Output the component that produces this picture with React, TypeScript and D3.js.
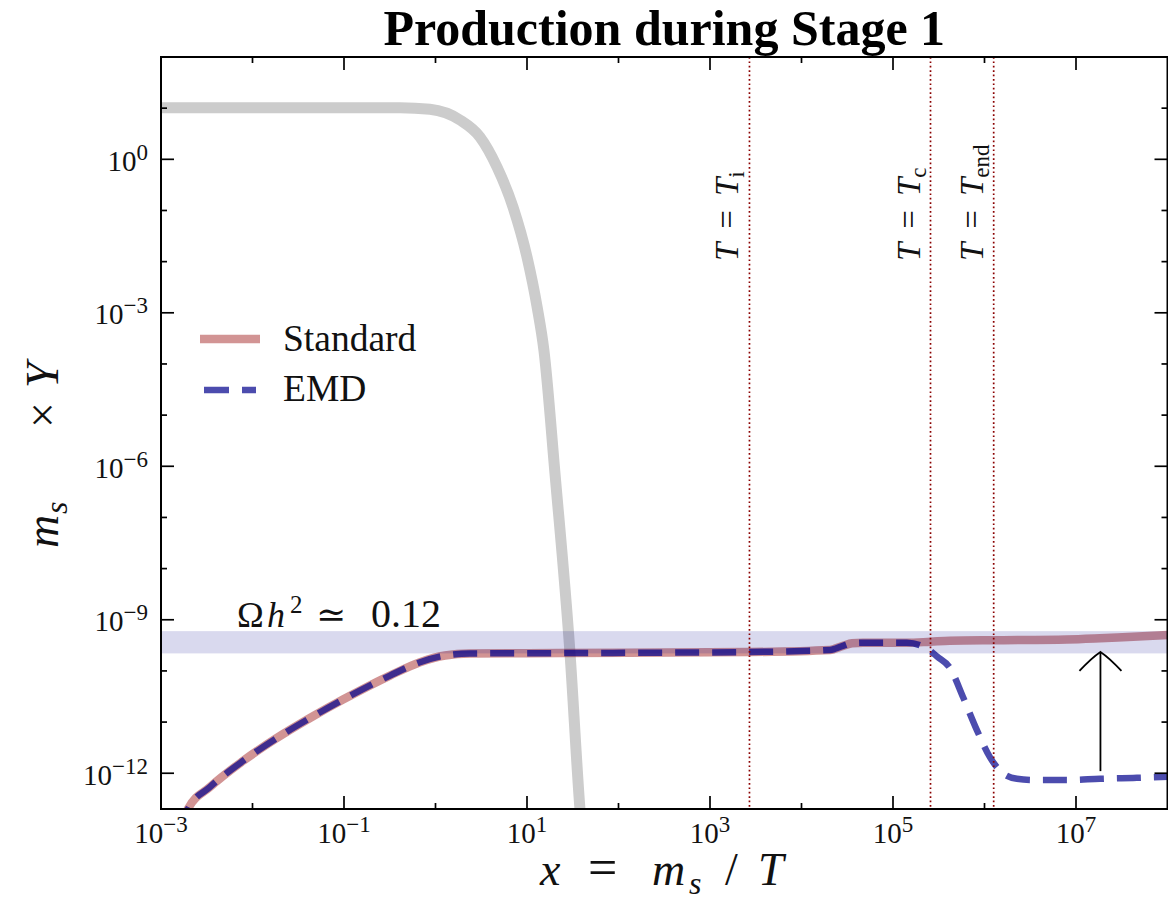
import React from "react";
import * as d3 from "d3";

const W = 1168;
const H = 906;

// axis domains
const xDomain: [number, number] = [1e-3, 1e8];
const yDomain: [number, number] = [2e-13, 1e2];

// ticks
const xMajorTicks = [1e-3, 1e-1, 1e1, 1e3, 1e5, 1e7];
const xMajorExp = ["−3", "−1", "1", "3", "5", "7"];
const xMinorTicks = [1e-2, 1e0, 1e2, 1e4, 1e6];
const yMajorTicks = [1e0, 1e-3, 1e-6, 1e-9, 1e-12];
const yMajorExp = ["0", "−3", "−6", "−9", "−12"];
const yMinorTicks = [1e1, 1e-1, 1e-2, 1e-4, 1e-5, 1e-7, 1e-8, 1e-10, 1e-11];

// equilibrium (grey) curve
const eqX = [1e-3, 0.41, 0.87, 1.85, 3.06, 4.7, 7.03, 10.0, 12.9, 15.3, 20.2, 29.5, 37.9, 40.0];
const eqY = [10.2, 10.2, 9.5, 5.87, 2.73, 0.707, 0.117, 0.0123, 1.3e-3, 1.87e-4, 7.4e-7, 2.24e-10, 2e-13, 6e-14];

// shared part of Standard and EMD
const commonX = [1.61e-3, 1.97e-3, 3.44e-3, 7.87e-3, 0.0185, 0.0425, 0.0975, 0.318, 0.678, 1.27, 2.38, 23, 2735, 2.05e4, 2.84e4, 3.57e4, 4.7e4, 1.42e5];
const commonY = [7.9e-14, 2.0e-13, 5.4e-13, 1.74e-12, 4.9e-12, 1.2e-11, 2.75e-11, 8.1e-11, 1.48e-10, 2.0e-10, 2.19e-10, 2.23e-10, 2.34e-10, 2.57e-10, 3.09e-10, 3.47e-10, 3.55e-10, 3.55e-10];

// Standard tail
const standardTailX = [2.57e5, 4.17e5, 1.48e6, 7.94e6, 1.83e7, 4.2e7, 1.01e8];
const standardTailY = [3.72e-10, 3.89e-10, 3.98e-10, 4.12e-10, 4.36e-10, 4.68e-10, 5.01e-10];

// EMD tail
const emdTailX = [1.97e5, 2.42e5, 3.03e5, 4.2e5, 5.82e5, 8.28e5, 1.15e6, 1.59e6, 2.26e6, 3.39e6, 7.98e6, 1.83e7, 4.2e7, 1.01e8];
const emdTailY = [3.18e-10, 2.66e-10, 1.91e-10, 1.14e-10, 3.09e-11, 6.9e-12, 2.04e-12, 1.0e-12, 7.8e-13, 7.4e-13, 7.4e-13, 7.8e-13, 8.1e-13, 8.5e-13];

// relic band
const bandLow = 2.2e-10;
const bandHigh = 6.0e-10;

// vertical temperature markers
const markerX = [2.7e3, 2.57e5, 1.26e6];
const markerSub = ["i", "c", "end"];

// arrow
const arrowX = 1.85e7;
const arrowFrom = 1.1e-12;
const arrowTo = 2.35e-10;

// legend
const legendLabels = ["Standard", "EMD"];

const FONT = "'Liberation Serif', 'DejaVu Serif', serif";

const L = 161, T = 57, B = 809, R = 1167.5;

export default function App() {
  const x = d3.scaleLog().domain(xDomain).range([L, R]);
  const y = d3.scaleLog().domain(yDomain).range([B, T]);

  const toPts = (xs: number[], ys: number[]) => xs.map((v, i) => [v, ys[i]] as [number, number]);
  const line = d3
    .line<[number, number]>()
    .x((d) => x(d[0]))
    .y((d) => y(d[1]))
    .curve(d3.curveMonotoneX);

  const eqPath = line(toPts(eqX, eqY)) || "";
  const stdPath = line(toPts(commonX.concat(standardTailX), commonY.concat(standardTailY))) || "";
  const emdPath = line(toPts(commonX.concat(emdTailX), commonY.concat(emdTailY))) || "";

  const MAJ = 13, MIN = 6;
  const ax = x(arrowX), ay0 = y(arrowFrom), ay1 = y(arrowTo);

  return (
    <svg width={W} height={H} style={{ position: "absolute", left: 0, top: 0, background: "#fff" }} fontFamily={FONT}>
      <defs>
        <clipPath id="plotclip">
          <rect x={L} y={T} width={R - L} height={B - T} />
        </clipPath>
      </defs>
      <rect x={0} y={0} width={W} height={H} fill="#fff" />

      <g clipPath="url(#plotclip)">
        <path d={eqPath} fill="none" stroke="#cccccc" strokeWidth={11} />
        <path d={stdPath} fill="none" stroke="rgb(165,42,42)" strokeOpacity={0.5} strokeWidth={8.5} />
        <path d={emdPath} fill="none" stroke="rgb(0,0,139)" strokeOpacity={0.7} strokeWidth={6.5} strokeDasharray="24 13" />
        <rect x={L} y={y(bandHigh)} width={R - L} height={y(bandLow) - y(bandHigh)} fill="rgb(0,0,139)" fillOpacity={0.15} />
        {markerX.map((m, i) => (
          <line key={"m" + i} x1={x(m)} x2={x(m)} y1={T} y2={B} stroke="#8b0000" strokeWidth={1.7} strokeDasharray="1.7 2.7" />
        ))}
      </g>

      {markerX.map((m, i) => (
        <text
          key={"ml" + i}
          transform={`translate(${x(m) - 11},261) rotate(-90)`}
          fontSize={33}
          fill="#111"
          style={{ whiteSpace: "pre" }}
        >
          <tspan fontStyle="italic">T</tspan>
          <tspan dx={14}>=</tspan>
          <tspan dx={14} fontStyle="italic">T</tspan>
          <tspan dy={6} fontSize={23}>{markerSub[i]}</tspan>
        </text>
      ))}

      {/* Omega h^2 label */}
      <g fill="#111" fontSize={36}>
        <text x={237} y={627}>Ω</text>
        <text x={267} y={627} fontStyle="italic">h</text>
        <text x={290} y={613} fontSize={25}>2</text>
        <text x={316} y={627} fontFamily="'DejaVu Serif', serif" fontSize={36}>≃</text>
        <text x={371} y={627} fontSize={40}>0.12</text>
      </g>

      {/* arrow */}
      <g stroke="#000" strokeWidth={1.8} fill="none">
        <line x1={ax} x2={ax} y1={ay0} y2={ay1} />
        <path d={`M ${ax - 21} ${ay1 + 19} Q ${ax - 9} ${ay1 + 6} ${ax} ${ay1} Q ${ax + 9} ${ay1 + 6} ${ax + 21} ${ay1 + 19}`} />
      </g>

      {/* legend */}
      <line x1={200} x2={260} y1={339} y2={339} stroke="rgb(165,42,42)" strokeOpacity={0.5} strokeWidth={8.5} />
      <line x1={204} x2={256} y1={390} y2={390} stroke="rgb(0,0,139)" strokeOpacity={0.7} strokeWidth={6.5} strokeDasharray="25 13" />
      <text x={283} y={351} fontSize={37.5} fill="#111">{legendLabels[0]}</text>
      <text x={283} y={401} fontSize={37.5} fill="#111">{legendLabels[1]}</text>

      {/* axes frame */}
      <rect x={L} y={T} width={R - L} height={B - T} fill="none" stroke="#000" strokeWidth={2} />

      {/* ticks */}
      <g stroke="#000" strokeWidth={1.7}>
        {xMajorTicks.map((t, i) => (
          <g key={"xM" + i}>
            <line x1={x(t)} x2={x(t)} y1={B} y2={B - MAJ} />
            <line x1={x(t)} x2={x(t)} y1={T} y2={T + MAJ} />
          </g>
        ))}
        {xMinorTicks.map((t, i) => (
          <g key={"xm" + i}>
            <line x1={x(t)} x2={x(t)} y1={B} y2={B - MIN} />
            <line x1={x(t)} x2={x(t)} y1={T} y2={T + MIN} />
          </g>
        ))}
        {yMajorTicks.map((t, i) => (
          <g key={"yM" + i}>
            <line x1={L} x2={L + MAJ} y1={y(t)} y2={y(t)} />
            <line x1={R} x2={R - MAJ} y1={y(t)} y2={y(t)} />
          </g>
        ))}
        {yMinorTicks.map((t, i) => (
          <g key={"ym" + i}>
            <line x1={L} x2={L + MIN} y1={y(t)} y2={y(t)} />
            <line x1={R} x2={R - MIN} y1={y(t)} y2={y(t)} />
          </g>
        ))}
      </g>

      {/* tick labels */}
      <g fill="#111" fontSize={29}>
        {xMajorTicks.map((t, i) => (
          <text key={"xl" + i} x={x(t)} y={843} textAnchor="middle">
            <tspan>10</tspan>
            <tspan dy={-11} fontSize={23}>{xMajorExp[i]}</tspan>
          </text>
        ))}
        {yMajorTicks.map((t, i) => (
          <text key={"yl" + i} x={148} y={y(t) + 11.5} textAnchor="end">
            <tspan>10</tspan>
            <tspan dy={-11} fontSize={23}>{yMajorExp[i]}</tspan>
          </text>
        ))}
      </g>

      {/* title */}
      <text x={(L + R) / 2} y={45} textAnchor="middle" fontSize={50} fontWeight="bold" fill="#000">
        Production during Stage 1
      </text>

      {/* x label */}
      <g fill="#111" fontSize={46}>
        <text x={540} y={885} fontStyle="italic">x</text>
        <text x={588} y={885} fontSize={52}>=</text>
        <text x={652} y={885} fontStyle="italic">m</text>
        <text x={689} y={894} fontStyle="italic" fontSize={32}>s</text>
        <text x={725} y={885}>/</text>
        <text x={758} y={885} fontStyle="italic">T</text>
      </g>

      {/* y label */}
      <g transform="translate(58,548) rotate(-90)" fill="#111" fontSize={46}>
        <text x={0} y={0} fontStyle="italic">m</text>
        <text x={34} y={9} fontStyle="italic" fontSize={32}>s</text>
        <text x={120} y={0}>×</text>
        <text x={160} y={0} fontStyle="italic">Y</text>
      </g>
    </svg>
  );
}
